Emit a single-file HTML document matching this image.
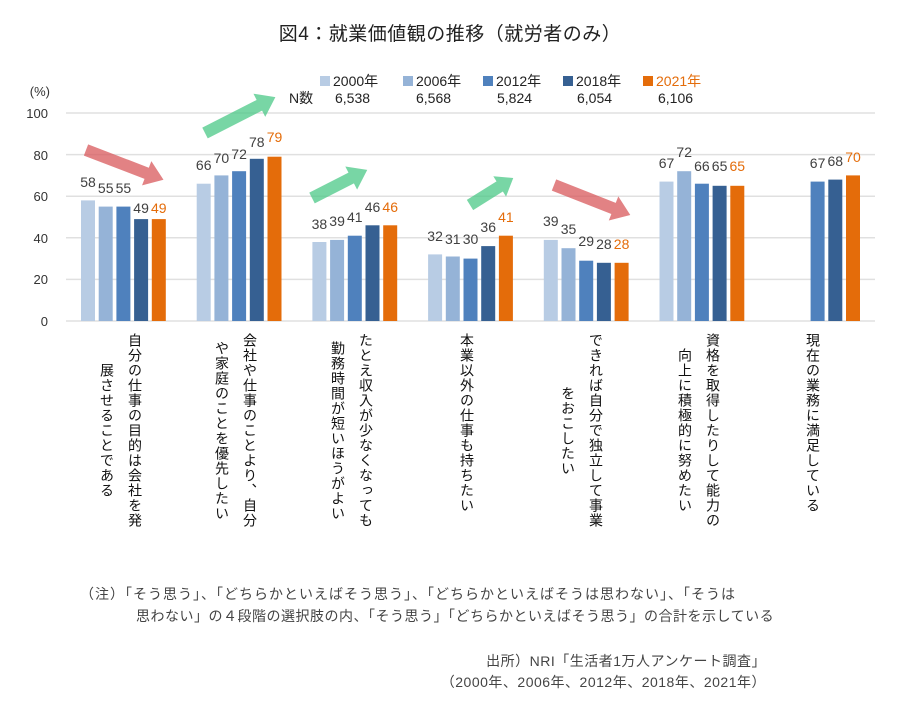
<!DOCTYPE html>
<html><head><meta charset="utf-8">
<style>
body{margin:0;background:#fff;width:900px;height:710px;overflow:hidden;font-family:"Liberation Sans","Noto Sans CJK JP",sans-serif;}
.wrap{position:relative;width:900px;height:710px;}
.lab{position:absolute;top:333px;display:flex;flex-direction:row-reverse;align-items:center;font-size:14px;color:#111;}
.lab div{writing-mode:vertical-rl;line-height:28px;letter-spacing:1px;}
.note{position:absolute;font-size:14px;letter-spacing:0.5px;color:#444;white-space:nowrap;}
</style></head><body><div class="wrap">
<svg width="900" height="710" style="position:absolute;left:0;top:0" font-family="Liberation Sans, Noto Sans CJK JP, sans-serif">
<text x="450" y="40" text-anchor="middle" font-size="19" fill="#222" letter-spacing="0.5">図4：就業価値観の推移（就労者のみ）</text>
<g stroke="#e0e0e0" stroke-width="1.5">
<line x1="66" x2="875" y1="113" y2="113"/><line x1="66" x2="875" y1="154.6" y2="154.6"/>
<line x1="66" x2="875" y1="196.2" y2="196.2"/><line x1="66" x2="875" y1="237.8" y2="237.8"/>
<line x1="66" x2="875" y1="279.4" y2="279.4"/><line x1="66" x2="875" y1="321" y2="321"/>
</g>
<g font-size="13" fill="#333" text-anchor="end">
<text x="48" y="118">100</text><text x="48" y="160">80</text><text x="48" y="201">60</text>
<text x="48" y="243">40</text><text x="48" y="284">20</text><text x="48" y="326">0</text>
<text x="50" y="96">(%)</text>
</g>
<g font-size="14">
<rect x="320" y="76" width="10" height="10" fill="#b8cce4"/><text x="333" y="86" fill="#222">2000年</text>
<rect x="403" y="76" width="10" height="10" fill="#95b3d7"/><text x="416" y="86" fill="#222">2006年</text>
<rect x="483" y="76" width="10" height="10" fill="#4f81bd"/><text x="496" y="86" fill="#222">2012年</text>
<rect x="563" y="76" width="10" height="10" fill="#366092"/><text x="576" y="86" fill="#222">2018年</text>
<rect x="643" y="76" width="10" height="10" fill="#e46c0a"/><text x="656" y="86" fill="#e46c0a">2021年</text>
<text x="289" y="103" fill="#222">N数</text>
<text x="335" y="103" fill="#222">6,538</text><text x="416" y="103" fill="#222">6,568</text>
<text x="497" y="103" fill="#222">5,824</text><text x="577" y="103" fill="#222">6,054</text>
<text x="658" y="103" fill="#222">6,106</text>
</g>
<g>
<rect x="81" y="200.4" width="14" height="120.6" fill="#b8cce4"/>
<rect x="98.7" y="206.6" width="14" height="114.4" fill="#95b3d7"/>
<rect x="116.4" y="206.6" width="14" height="114.4" fill="#4f81bd"/>
<rect x="134.1" y="219.1" width="14" height="101.9" fill="#366092"/>
<rect x="151.8" y="219.1" width="14" height="101.9" fill="#e46c0a"/>

<rect x="196.7" y="183.7" width="14" height="137.3" fill="#b8cce4"/>
<rect x="214.4" y="175.4" width="14" height="145.6" fill="#95b3d7"/>
<rect x="232.1" y="171.2" width="14" height="149.8" fill="#4f81bd"/>
<rect x="249.8" y="158.8" width="14" height="162.2" fill="#366092"/>
<rect x="267.5" y="156.7" width="14" height="164.3" fill="#e46c0a"/>

<rect x="312.4" y="242" width="14" height="79" fill="#b8cce4"/>
<rect x="330.1" y="239.9" width="14" height="81.1" fill="#95b3d7"/>
<rect x="347.8" y="235.7" width="14" height="85.3" fill="#4f81bd"/>
<rect x="365.5" y="225.3" width="14" height="95.7" fill="#366092"/>
<rect x="383.2" y="225.3" width="14" height="95.7" fill="#e46c0a"/>

<rect x="428.1" y="254.4" width="14" height="66.6" fill="#b8cce4"/>
<rect x="445.8" y="256.5" width="14" height="64.5" fill="#95b3d7"/>
<rect x="463.5" y="258.6" width="14" height="62.4" fill="#4f81bd"/>
<rect x="481.2" y="246.1" width="14" height="74.9" fill="#366092"/>
<rect x="498.9" y="235.7" width="14" height="85.3" fill="#e46c0a"/>

<rect x="543.8" y="239.9" width="14" height="81.1" fill="#b8cce4"/>
<rect x="561.5" y="248.2" width="14" height="72.8" fill="#95b3d7"/>
<rect x="579.2" y="260.7" width="14" height="60.3" fill="#4f81bd"/>
<rect x="596.9" y="262.8" width="14" height="58.2" fill="#366092"/>
<rect x="614.6" y="262.8" width="14" height="58.2" fill="#e46c0a"/>

<rect x="659.5" y="181.6" width="14" height="139.4" fill="#b8cce4"/>
<rect x="677.2" y="171.2" width="14" height="149.8" fill="#95b3d7"/>
<rect x="694.9" y="183.7" width="14" height="137.3" fill="#4f81bd"/>
<rect x="712.6" y="185.8" width="14" height="135.2" fill="#366092"/>
<rect x="730.3" y="185.8" width="14" height="135.2" fill="#e46c0a"/>

<rect x="810.6" y="181.6" width="14" height="139.4" fill="#4f81bd"/>
<rect x="828.3" y="179.6" width="14" height="141.4" fill="#366092"/>
<rect x="846" y="175.4" width="14" height="145.6" fill="#e46c0a"/>
</g>
<g font-size="14" fill="#404040" text-anchor="middle">
<text x="88" y="187">58</text><text x="105.7" y="193">55</text><text x="123.4" y="193">55</text><text x="141.1" y="213">49</text><text x="158.8" y="213" fill="#e46c0a">49</text>
<text x="203.7" y="170">66</text><text x="221.4" y="163">70</text><text x="239.1" y="159">72</text><text x="256.8" y="147">78</text><text x="274.5" y="142" fill="#e46c0a">79</text>
<text x="319.4" y="229">38</text><text x="337.1" y="226">39</text><text x="354.8" y="222">41</text><text x="372.5" y="212">46</text><text x="390.2" y="212" fill="#e46c0a">46</text>
<text x="435.1" y="241">32</text><text x="452.8" y="244">31</text><text x="470.5" y="244">30</text><text x="488.2" y="232">36</text><text x="505.9" y="222" fill="#e46c0a">41</text>
<text x="550.8" y="226">39</text><text x="568.5" y="234">35</text><text x="586.2" y="246">29</text><text x="603.9" y="249">28</text><text x="621.6" y="249" fill="#e46c0a">28</text>
<text x="666.5" y="168">67</text><text x="684.2" y="157">72</text><text x="701.9" y="171">66</text><text x="719.6" y="171">65</text><text x="737.3" y="171" fill="#e46c0a">65</text>
<text x="817.6" y="168">67</text><text x="835.3" y="166">68</text><text x="853" y="162" fill="#e46c0a">70</text>
</g>
<g opacity="0.75">
<g transform="translate(86,150) rotate(21)"><polygon points="0,-6 65,-6 65,-13 83,0 65,13 65,6 0,6" fill="#d9595c"/></g>
<g transform="translate(205,133) rotate(-27)"><polygon points="0,-6 61,-6 61,-13 79,0 61,13 61,6 0,6" fill="#4cc987"/></g>
<g transform="translate(312,198) rotate(-27)"><polygon points="0,-6 44,-6 44,-13 62,0 44,13 44,6 0,6" fill="#4cc987"/></g>
<g transform="translate(470,205) rotate(-32)"><polygon points="0,-6 35,-6 35,-12 51,0 35,12 35,6 0,6" fill="#4cc987"/></g>
<g transform="translate(554,185) rotate(21.5)"><polygon points="0,-6 64,-6 64,-13 82,0 64,13 64,6 0,6" fill="#d9595c"/></g>
</g>
</svg>
<div class="lab" style="left:93px"><div>自分の仕事の目的は会社を発</div><div>展させることである</div></div>
<div class="lab" style="left:208px"><div>会社や仕事のことより、自分</div><div>や家庭のことを優先したい</div></div>
<div class="lab" style="left:324px"><div>たとえ収入が少なくなっても</div><div>勤務時間が短いほうがよい</div></div>
<div class="lab" style="left:453px"><div>本業以外の仕事も持ちたい</div></div>
<div class="lab" style="left:554px"><div>できれば自分で独立して事業</div><div>をおこしたい</div></div>
<div class="lab" style="left:671px"><div>資格を取得したりして能力の</div><div>向上に積極的に努めたい</div></div>
<div class="lab" style="left:799px"><div>現在の業務に満足している</div></div>
<div class="note" style="left:80px;top:584px;letter-spacing:1px">（注）「そう思う」、「どちらかといえばそう思う」、「どちらかといえばそうは思わない」、「そうは</div>
<div class="note" style="left:136px;top:606px">思わない」の４段階の選択肢の内、「そう思う」「どちらかといえばそう思う」の合計を示している</div>
<div class="note" style="left:300px;top:651px;width:466px;text-align:right">出所）NRI「生活者1万人アンケート調査」</div>
<div class="note" style="left:300px;top:672px;width:466px;text-align:right">（2000年、2006年、2012年、2018年、2021年）</div>
</div></body></html>
